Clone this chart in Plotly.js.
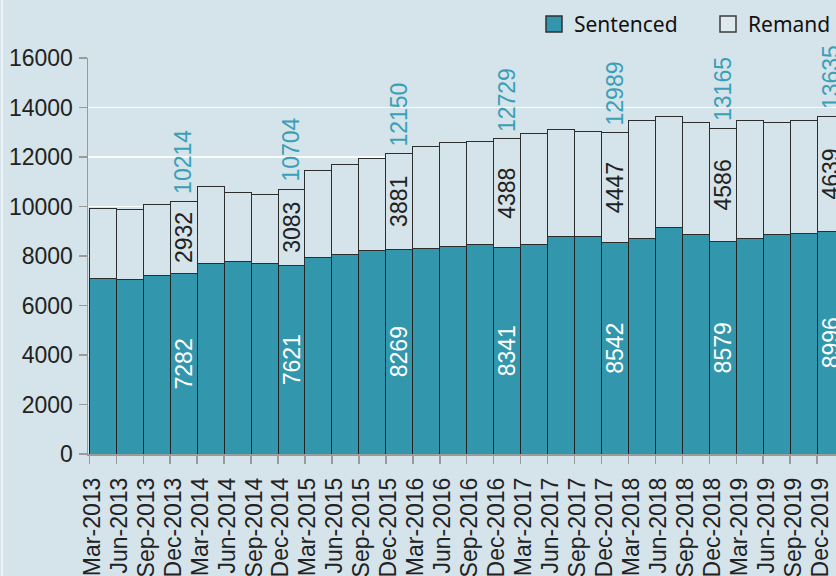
<!DOCTYPE html>
<html>
<head>
<meta charset="utf-8">
<script src="https://cdn.plot.ly/plotly-3.0.1.min.js"></script>
<style>
html,body{margin:0;padding:0;background:#d5e3ea;}
#chart{width:836px;height:576px;}
</style>
</head>
<body>
<div id="chart"></div>
<script>
const categories = ["Mar-2013","Jun-2013","Sep-2013","Dec-2013","Mar-2014","Jun-2014","Sep-2014","Dec-2014",
  "Mar-2015","Jun-2015","Sep-2015","Dec-2015","Mar-2016","Jun-2016","Sep-2016","Dec-2016",
  "Mar-2017","Jun-2017","Sep-2017","Dec-2017","Mar-2018","Jun-2018","Sep-2018","Dec-2018",
  "Mar-2019","Jun-2019","Sep-2019","Dec-2019"];
const sentenced = [7077,7070,7225,7282,7681,7762,7681,7621,7936,8073,8240,8269,8299,8379,8460,8341,
  8460,8782,8770,8542,8690,9161,8851,8579,8690,8851,8918,8996];
const remand = [2850,2789,2864,2932,3117,2795,2795,3083,3536,3629,3695,3881,4112,4194,4181,4388,
  4492,4315,4246,4447,4798,4476,4556,4586,4798,4556,4570,4639];
const yTicks = [0,2000,4000,6000,8000,10000,12000,14000,16000];

const teal = "rgb(50,151,172)";
const bg = "rgb(213,227,234)";
const labelled = categories.map(c => c.startsWith("Dec"));
const xPos = categories.map((c, i) => i + 0.5);
const totals = sentenced.map((s, i) => s + remand[i]);

const traces = [
  {
    type: "bar", name: "Sentenced", x: xPos, y: sentenced, width: 1, showlegend: false,
    marker: {color: teal, line: {color: "rgb(35,35,35)", width: 1}},
    text: sentenced.map((v, i) => labelled[i] ? String(v) : ""),
    textposition: "inside", insidetextanchor: "middle", textangle: -90,
    constraintext: "none", cliponaxis: false,
    insidetextfont: {family: "Liberation Sans, Arial, sans-serif", size: 23, color: "#ffffff"},
    hoverinfo: "skip"
  },
  {
    type: "bar", name: "Remand", x: xPos, y: remand, width: 1, showlegend: false,
    marker: {color: bg, line: {color: "rgb(45,45,45)", width: 1}},
    text: remand.map((v, i) => labelled[i] ? String(v) : ""),
    textposition: "inside", insidetextanchor: "middle", textangle: -90,
    constraintext: "none", cliponaxis: false,
    insidetextfont: {family: "Liberation Sans, Arial, sans-serif", size: 23, color: "#222222"},
    hoverinfo: "skip"
  },
  {
    type: "scatter", mode: "markers", name: "Sentenced", x: [null], y: [null], showlegend: true,
    marker: {symbol: "square", size: 16, color: teal, line: {color: "rgb(50,50,50)", width: 1.5}},
    hoverinfo: "skip"
  },
  {
    type: "scatter", mode: "markers", name: "Remand", x: [null], y: [null], showlegend: true,
    marker: {symbol: "square", size: 16, color: "rgb(222,233,238)", line: {color: "rgb(60,60,60)", width: 1.5}},
    hoverinfo: "skip"
  }
];

const annotations = [];
totals.forEach((t, i) => {
  if (labelled[i]) {
    annotations.push({
      x: xPos[i], y: t, xref: "x", yref: "y", text: String(t), showarrow: false,
      textangle: -90, yanchor: "bottom", xanchor: "center", yshift: 5,
      font: {family: "Liberation Sans, Arial, sans-serif", size: 23, color: "rgb(58,160,182)"}
    });
  }
});

const layout = {
  width: 836, height: 576,
  margin: {l: 88, r: 0, t: 58, b: 122, pad: 0, autoexpand: false},
  paper_bgcolor: bg, plot_bgcolor: bg,
  barmode: "stack", bargap: 0,
  showlegend: true,
  legend: {
    orientation: "h", x: (534 - 88) / 748, xanchor: "left", y: 1.085, yanchor: "middle",
    font: {family: "Noto Sans, Open Sans, sans-serif", size: 21, color: "#111"},
    bgcolor: "rgba(0,0,0,0)", traceorder: "normal", entrywidth: 129, itemwidth: 30
  },
  xaxis: {
    range: [-0.05, 27.7], tickmode: "array", tickvals: categories.map((c, i) => i), ticktext: categories,
    tickangle: -90, ticks: "outside", ticklen: 8, tickwidth: 1.5, tickcolor: "#9a9a9a",
    showline: true, linecolor: "#9a9a9a", linewidth: 1.5, showgrid: false, zeroline: false,
    tickfont: {family: "Liberation Sans, Arial, sans-serif", size: 23, color: "#222"},
    ticklabelstandoff: 5, ticklabelshift: 3
  },
  yaxis: {
    range: [0, 16000], tickmode: "array", tickvals: yTicks, ticktext: yTicks.map(String),
    ticks: "outside", ticklen: 8, tickwidth: 1.5, tickcolor: "#9a9a9a",
    showline: true, linecolor: "#9a9a9a", linewidth: 1.5,
    showgrid: true, gridcolor: "rgba(255,255,255,0.85)", gridwidth: 1.5, zeroline: false,
    tickfont: {family: "Liberation Sans, Arial, sans-serif", size: 23, color: "#222"},
    ticklabelstandoff: 1
  },
  annotations: annotations,
  shapes: [{type: "line", xref: "paper", yref: "paper", x0: -86/748, x1: -86/748, y0: -0.4, y1: 1.2,
    line: {color: "rgb(236,242,245)", width: 2}}]
};

Plotly.newPlot("chart", traces, layout, {staticPlot: true, displayModeBar: false});
</script>
</body>
</html>
